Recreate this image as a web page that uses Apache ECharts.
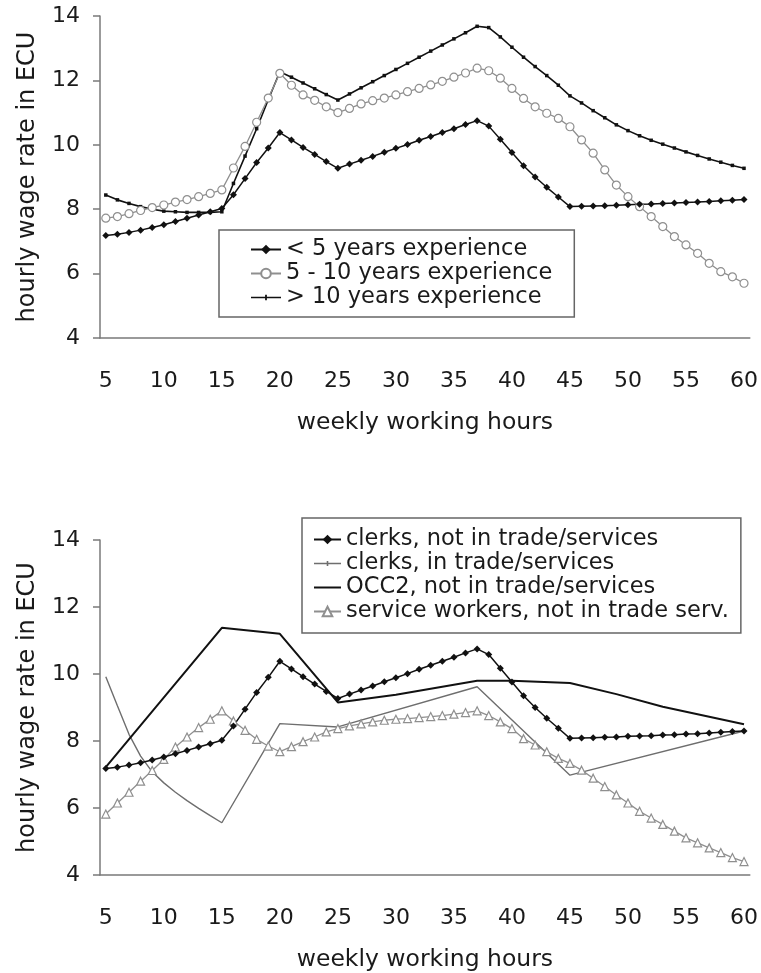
<!DOCTYPE html>
<html>
<head>
<meta charset="utf-8">
<title>hourly wage rate</title>
<script src="https://cdn.jsdelivr.net/npm/echarts@6/dist/echarts.min.js"></script>
<style>
  body { margin: 0; background: #fff; }
</style>
</head>
<body>
<div id="main" style="width: 761px;height: 973px;"></div>
<script>
  // weekly working hours, one category per hour
  var hours = ['5', '6', '7', '8', '9', '10', '11', '12', '13', '14', '15', '16', '17', '18', '19', '20',
    '21', '22', '23', '24', '25', '26', '27', '28', '29', '30', '31', '32', '33', '34', '35', '36', '37',
    '38', '39', '40', '41', '42', '43', '44', '45', '46', '47', '48', '49', '50', '51', '52', '53', '54',
    '55', '56', '57', '58', '59', '60']
  var yTicks = [4, 6, 8, 10, 12, 14]

  // top panel: by experience
  var lessThan5 = [7.18, 7.22, 7.28, 7.35, 7.43, 7.52, 7.62, 7.72, 7.82, 7.92, 8.02,
    8.45, 8.95, 9.45, 9.9, 10.38,
    10.15, 9.92, 9.7, 9.48, 9.27,
    9.4, 9.52, 9.64, 9.77, 9.89, 10.01, 10.14, 10.26, 10.38, 10.5, 10.63, 10.75,
    10.58, 10.17, 9.76, 9.35, 9.0, 8.68, 8.38, 8.08,
    8.09, 8.1, 8.11, 8.12, 8.14, 8.15, 8.16, 8.18, 8.19, 8.21, 8.22, 8.24, 8.26, 8.28, 8.3]
  var fiveTo10 = [7.72, 7.77, 7.86, 7.96, 8.05, 8.13, 8.22, 8.3, 8.39, 8.49, 8.6,
    9.28, 9.95, 10.7, 11.45, 12.22,
    11.85, 11.55, 11.38, 11.18, 11.0,
    11.13, 11.27, 11.37, 11.45, 11.55, 11.65, 11.75, 11.86, 11.97, 12.1, 12.23, 12.38,
    12.3, 12.07, 11.75, 11.44, 11.18, 10.98, 10.82, 10.56,
    10.15, 9.74, 9.22, 8.75, 8.39, 8.08, 7.77, 7.46, 7.15, 6.89, 6.63, 6.32, 6.06, 5.9, 5.7]
  var moreThan10 = [8.44, 8.29, 8.18, 8.08, 8.0, 7.94, 7.92, 7.9, 7.9, 7.9, 7.92,
    8.8, 9.65, 10.5, 11.4, 12.27,
    12.1, 11.92, 11.74, 11.56, 11.39,
    11.58, 11.77, 11.96, 12.15, 12.34, 12.53, 12.72, 12.91, 13.1, 13.29, 13.48, 13.68,
    13.64, 13.35, 13.03, 12.72, 12.43, 12.15, 11.85, 11.52,
    11.3, 11.06, 10.84, 10.62, 10.44, 10.28, 10.14, 10.02, 9.9, 9.78, 9.67, 9.56, 9.46, 9.36, 9.27]

  // bottom panel: by occupation
  var clerksNotTrade = [7.18, 7.22, 7.28, 7.35, 7.43, 7.52, 7.62, 7.72, 7.82, 7.92, 8.02,
    8.45, 8.95, 9.45, 9.9, 10.38,
    10.15, 9.92, 9.7, 9.48, 9.27,
    9.4, 9.52, 9.64, 9.77, 9.89, 10.01, 10.14, 10.26, 10.38, 10.5, 10.63, 10.75,
    10.58, 10.17, 9.76, 9.35, 9.0, 8.68, 8.38, 8.08,
    8.09, 8.1, 8.11, 8.12, 8.14, 8.15, 8.16, 8.18, 8.19, 8.21, 8.22, 8.24, 8.26, 8.28, 8.3]
  // [hour, value] at the corners of the line
  var clerksTrade = [['5', 9.92], ['6', 9.05], ['7', 8.2], ['8', 7.55], ['9', 7.08], ['10', 6.75],
    ['11', 6.47], ['12', 6.22], ['13', 5.99], ['14', 5.77], ['15', 5.56], ['20', 8.52],
    ['25', 8.42], ['37', 9.62], ['45', 6.98], ['60', 8.3]]
  var occ2NotTrade = [['5', 7.22], ['15', 11.38], ['20', 11.2], ['25', 9.15], ['30', 9.38],
    ['37', 9.8], ['40', 9.8], ['45', 9.73], ['49', 9.4], ['53', 9.02], ['60', 8.5]]
  var serviceWorkers = [5.82, 6.15, 6.47, 6.8, 7.12, 7.45, 7.82, 8.12, 8.4, 8.65, 8.9,
    8.6, 8.32, 8.05, 7.85, 7.68,
    7.83, 7.98, 8.12, 8.27, 8.37,
    8.45, 8.51, 8.57, 8.62, 8.65, 8.67, 8.7, 8.73, 8.76, 8.8, 8.85, 8.9,
    8.76, 8.57, 8.37, 8.07, 7.88, 7.68, 7.48, 7.33,
    7.13, 6.89, 6.64, 6.39, 6.15, 5.9, 5.7, 5.51, 5.31, 5.11, 4.96, 4.81, 4.67, 4.52, 4.4]

  var font = "'DejaVu Sans', sans-serif"
  var ink = '#1a1a1a'
  var black = '#111'
  var grey = '#8f8f8f'
  var darkGrey = '#6e6e6e'
  var axisGrey = '#7a7a7a'
  // legend icons: plain line, and line with a small cross
  var lineIcon = 'path://M0,0H27V2H0Z'
  var crossIcon = 'path://M0,4.3H12.7V2.5H14.3V4.3H27V5.7H14.3V7.5H12.7V5.7H0Z'

  function xAxisFor(gridIndex) {
    return {
      type: 'category',
      gridIndex: gridIndex,
      data: hours,
      boundaryGap: true,
      name: 'weekly working hours',
      nameLocation: 'middle',
      nameGap: 73,
      nameTextStyle: { fontFamily: font, fontSize: 23.5, color: ink },
      axisLine: { lineStyle: { color: axisGrey, width: 1.5 } },
      axisTick: { interval: 4, length: 8, lineStyle: { color: axisGrey, width: 1.5 } },
      axisLabel: { interval: 4, margin: 32, fontFamily: font, fontSize: 22, color: ink }
    }
  }
  function yAxisFor(gridIndex) {
    return {
      type: 'value',
      gridIndex: gridIndex,
      min: yTicks[0],
      max: yTicks[yTicks.length - 1],
      interval: 2,
      name: 'hourly wage rate in ECU',
      nameLocation: 'middle',
      nameRotate: 90,
      nameGap: 60,
      nameTextStyle: { fontFamily: font, fontSize: 24, color: ink },
      axisLine: { show: true, lineStyle: { color: axisGrey, width: 1.5 } },
      axisTick: { show: true, length: 7, lineStyle: { color: axisGrey, width: 1.5 } },
      axisLabel: { margin: 20, fontFamily: font, fontSize: 22, color: ink },
      splitLine: { show: false }
    }
  }

  var chart = echarts.init(document.getElementById('main'))
  chart.setOption({
    animation: false,
    backgroundColor: '#fff',
    grid: [
      { left: 100, top: 16, width: 650, height: 322 },
      { left: 100, top: 540, width: 650, height: 337.5 }
    ],
    xAxis: [xAxisFor(0), xAxisFor(1)],
    yAxis: [yAxisFor(0), yAxisFor(1)],
    legend: [{
      data: ['< 5 years experience', '5 - 10 years experience',
        { name: '> 10 years experience', icon: crossIcon }],
      orient: 'vertical',
      left: 219,
      top: 230,
      padding: [8, 22, 8, 31],
      itemGap: 1,
      itemWidth: 30,
      itemHeight: 12,
      selectedMode: false,
      borderColor: '#666',
      borderWidth: 1.5,
      textStyle: { fontFamily: font, fontSize: 22.5, lineHeight: 23, color: ink }
    }, {
      data: ['clerks, not in trade/services',
        { name: 'clerks, in trade/services', icon: crossIcon },
        { name: 'OCC2, not in trade/services', icon: lineIcon },
        'service workers, not in trade serv.'],
      orient: 'vertical',
      left: 302,
      top: 518,
      padding: [10, 12, 10, 11],
      itemGap: 1,
      itemWidth: 27,
      itemHeight: 12,
      selectedMode: false,
      borderColor: '#666',
      borderWidth: 1.5,
      textStyle: { fontFamily: font, fontSize: 22.5, lineHeight: 23, color: ink }
    }],
    series: [{
      name: '> 10 years experience',
      type: 'line',
      xAxisIndex: 0, yAxisIndex: 0,
      data: moreThan10,
      symbol: 'rect', symbolSize: 3.5, showAllSymbol: true,
      lineStyle: { color: black, width: 1.6 },
      itemStyle: { color: black }
    }, {
      name: '5 - 10 years experience',
      type: 'line',
      xAxisIndex: 0, yAxisIndex: 0,
      data: fiveTo10,
      symbol: 'circle', symbolSize: 8, showAllSymbol: true,
      lineStyle: { color: grey, width: 1.3 },
      itemStyle: { color: '#fff', borderColor: grey, borderWidth: 1.2 }
    }, {
      name: '< 5 years experience',
      type: 'line',
      xAxisIndex: 0, yAxisIndex: 0,
      data: lessThan5,
      symbol: 'diamond', symbolSize: 7, showAllSymbol: true,
      lineStyle: { color: black, width: 1.5 },
      itemStyle: { color: black }
    }, {
      name: 'clerks, in trade/services',
      type: 'line',
      xAxisIndex: 1, yAxisIndex: 1,
      data: clerksTrade,
      symbol: 'rect', symbolSize: 3, showSymbol: false,
      lineStyle: { color: darkGrey, width: 1.4 },
      itemStyle: { color: darkGrey }
    }, {
      name: 'service workers, not in trade serv.',
      type: 'line',
      xAxisIndex: 1, yAxisIndex: 1,
      data: serviceWorkers,
      symbol: 'triangle', symbolSize: 8, showAllSymbol: true,
      lineStyle: { color: grey, width: 1.3 },
      itemStyle: { color: '#fff', borderColor: grey, borderWidth: 1.2 }
    }, {
      name: 'OCC2, not in trade/services',
      type: 'line',
      xAxisIndex: 1, yAxisIndex: 1,
      data: occ2NotTrade,
      symbol: 'none',
      lineStyle: { color: black, width: 2 },
      itemStyle: { color: black }
    }, {
      name: 'clerks, not in trade/services',
      type: 'line',
      xAxisIndex: 1, yAxisIndex: 1,
      data: clerksNotTrade,
      symbol: 'diamond', symbolSize: 7, showAllSymbol: true,
      lineStyle: { color: black, width: 1.5 },
      itemStyle: { color: black }
    }]
  })
</script>
</body>
</html>
